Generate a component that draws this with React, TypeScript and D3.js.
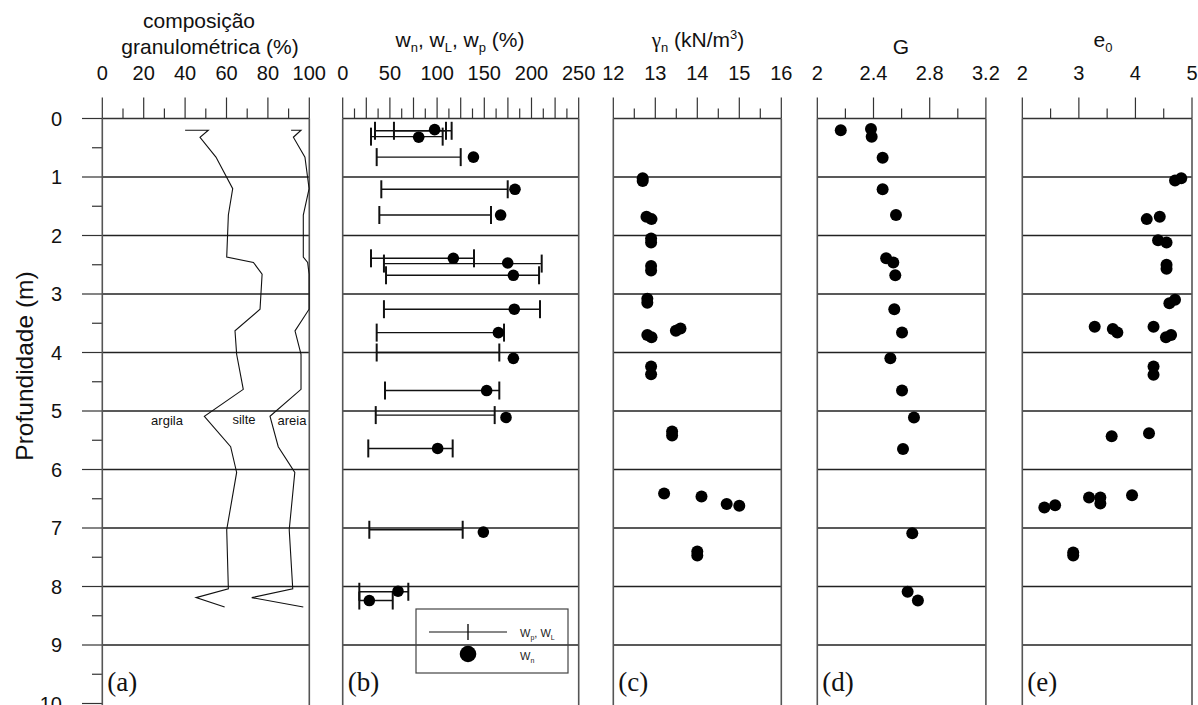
import * as d3 from "d3";

// ---- dados ----
// (a) composição granulométrica: limite argila/silte e silte/areia (% acumulada)
const granDepth = [0.2, 0.2, 0.32, 0.66, 1.2, 1.65, 2.37, 2.46, 2.66, 3.26, 3.63, 4.03, 4.63, 5.09, 5.61, 6.05, 7.03, 8.04, 8.19, 8.35];
const argilaPct = [40, 51.2, 47.2, 54.9, 63, 60.9, 60.1, 73, 77.2, 76.2, 64.1, 64.9, 68.1, 49.3, 62, 64.9, 60.1, 60.9, 45.3, 59.1];
const siltePct = [91.2, 96, 92.3, 97.9, 99.9, 97.1, 97.1, 99.2, 99.9, 99.9, 93.1, 96, 96, 81, 85, 93, 90.3, 92, 72.2, 97.1];

// (b) limites wp - wL e umidade natural wn
const limDepth = [0.21, 0.21, 0.31, 0.66, 1.21, 1.65, 2.39, 2.48, 2.68, 3.26, 3.66, 4.0, 4.65, 5.07, 5.64, 7.03, 8.09, 8.24];
const wpVals = [34.2, 54.3, 30, 36, 40.9, 38.8, 30, 43.7, 45.9, 43.7, 36, 36, 44.8, 35, 27.1, 28.2, 17.6, 17.6];
const wlVals = [115.4, 109.4, 105.9, 125, 174.8, 157.1, 139.1, 210.8, 208, 209, 170.9, 165.9, 165.9, 161, 116.5, 127.1, 69.5, 53];
const wnDepth = [0.19, 0.32, 0.66, 1.21, 1.65, 2.39, 2.47, 2.68, 3.26, 3.66, 4.1, 4.65, 5.11, 5.64, 7.07, 8.08, 8.24];
const wnVals = [97.4, 80.5, 138.5, 182.5, 167.3, 117.2, 174.8, 180.8, 181.8, 164.9, 180.8, 152.5, 173, 100.6, 149, 58.6, 28.2];

// (c) peso específico natural
const gammaDepth = [1.02, 1.07, 1.68, 1.72, 2.05, 2.12, 2.52, 2.6, 3.08, 3.15, 3.7, 3.74, 3.63, 3.59, 4.24, 4.37, 5.35, 5.42, 6.41, 6.46, 6.59, 6.62, 7.4, 7.47];
const gammaVals = [12.7, 12.7, 12.79, 12.91, 12.9, 12.9, 12.9, 12.9, 12.81, 12.81, 12.81, 12.91, 13.49, 13.6, 12.9, 12.9, 13.4, 13.4, 13.21, 14.1, 14.7, 15.0, 14.0, 14.0];

// (d) densidade dos grãos G
const gDepth = [0.2, 0.18, 0.31, 0.67, 1.21, 1.65, 2.39, 2.46, 2.68, 3.26, 3.66, 4.1, 4.65, 5.11, 5.65, 7.09, 8.09, 8.24];
const gVals = [2.167, 2.382, 2.387, 2.465, 2.465, 2.56, 2.49, 2.541, 2.555, 2.548, 2.603, 2.52, 2.603, 2.688, 2.61, 2.676, 2.643, 2.716];

// (e) índice de vazios e0
const eDepth = [1.06, 1.02, 1.72, 1.68, 2.08, 2.12, 2.5, 2.57, 3.16, 3.1, 3.56, 3.6, 3.66, 3.56, 3.74, 3.7, 4.24, 4.38, 5.43, 5.38, 6.65, 6.61, 6.48, 6.48, 6.58, 6.44, 7.42, 7.47];
const eVals = [4.7, 4.81, 4.2, 4.43, 4.4, 4.55, 4.55, 4.55, 4.6, 4.7, 3.28, 3.6, 3.68, 4.32, 4.54, 4.63, 4.32, 4.32, 3.58, 4.24, 2.39, 2.58, 3.18, 3.38, 3.38, 3.94, 2.9, 2.9];

const depthLabels = d3.range(0, 11);
const labelsA = [0, 20, 40, 60, 80, 100];
const labelsB = [0, 50, 100, 150, 200, 250];
const labelsC = [12, 13, 14, 15, 16];
const labelsD = [2, 2.4, 2.8, 3.2];
const labelsE = [2, 3, 4, 5];

const sans = "'Liberation Sans', Arial, sans-serif";
const serif = "'Liberation Serif', 'Times New Roman', serif";

const W = 1198;
const H = 705;
const y = d3.scaleLinear().domain([0, 10]).range([118.5, 703.5]);

// painéis: escala, passo dos traços (longo a cada 2)
const panels = [
  { id: "a", x: d3.scaleLinear().domain([0, 100]).range([102.3, 309.3]), step: 10, labels: labelsA },
  { id: "b", x: d3.scaleLinear().domain([0, 250]).range([342.7, 578.7]), step: 12.5, labels: labelsB },
  { id: "c", x: d3.scaleLinear().domain([12, 16]).range([613.3, 781.3]), step: 0.5, labels: labelsC },
  { id: "d", x: d3.scaleLinear().domain([2, 3.2]).range([817.3, 985.9]), step: 0.2, labels: labelsD },
  { id: "e", x: d3.scaleLinear().domain([2, 5]).range([1022.3, 1192]), step: 0.5, labels: labelsE },
];

function Panel({ p }: { p: (typeof panels)[number] }) {
  const [d0, d1] = p.x.domain();
  const n = Math.round((d1 - d0) / p.step);
  const ticks = d3.range(0, n + 1).map((i) => ({ v: d0 + i * p.step, long: i % 2 === 0 }));
  const [x0, x1] = p.x.range();
  return (
    <g>
      {ticks.map((t, i) => (
        <line key={i} x1={p.x(t.v)} x2={p.x(t.v)} y1={y(0)} y2={y(0) - (t.long ? 21 : 10)} stroke="#333" strokeWidth={1.2} />
      ))}
      {p.labels.map((v) => (
        <text key={v} x={p.x(v)} y={80} textAnchor="middle" fontSize="20" fontFamily={sans} fill="#111">
          {v}
        </text>
      ))}
      <line x1={x0} x2={x1} y1={y(0)} y2={y(0)} stroke="#333" strokeWidth={1.5} />
      {d3.range(1, 10).map((d) => (
        <line key={d} x1={x0} x2={x1} y1={y(d)} y2={y(d)} stroke="#222" strokeWidth={1.3} />
      ))}
      <line x1={x0} x2={x0} y1={y(0)} y2={H} stroke="#555" strokeWidth={1.6} />
      <line x1={x1} x2={x1} y1={y(0)} y2={H} stroke="#555" strokeWidth={1.6} />
      <text x={x0 + 5} y={691} fontSize="27" fontFamily={serif} fill="#111">
        ({p.id})
      </text>
    </g>
  );
}

export default function App() {
  const [pa, pb, pc, pd, pe] = panels;

  const lineA = d3
    .line<number>()
    .x((v) => pa.x(v))
    .y((_, i) => y(granDepth[i]));

  return (
    <div style={{ position: "absolute", left: 0, top: 0 }}>
      <svg width={W} height={H} style={{ display: "block", background: "#fff" }}>
        {/* eixo de profundidade */}
        {depthLabels.map((d) => (
          <g key={d}>
            <line x1={82} x2={102} y1={y(d)} y2={y(d)} stroke="#333" strokeWidth={1.2} />
            {d < 10 && <line x1={92} x2={102} y1={y(d + 0.5)} y2={y(d + 0.5)} stroke="#333" strokeWidth={1.2} />}
            <text x={62} y={y(d) + 7} textAnchor="end" fontSize="20" fontFamily={sans} fill="#111">
              {d}
            </text>
          </g>
        ))}
        <text transform="translate(33,366) rotate(-90)" textAnchor="middle" fontSize="24.5" fontFamily={sans} fill="#111">
          Profundidade (m)
        </text>

        {panels.map((p) => (
          <Panel key={p.id} p={p} />
        ))}

        {/* títulos */}
        <g fontFamily={sans} fontSize="21" fill="#111" textAnchor="middle">
          <text x={199} y={28}>composição</text>
          <text x={210} y={54}>granulométrica (%)</text>
          <text x={460} y={47}>
            <tspan>w</tspan>
            <tspan fontSize="13" dy="5">n</tspan>
            <tspan dy="-5">, w</tspan>
            <tspan fontSize="13" dy="5">L</tspan>
            <tspan dy="-5">, w</tspan>
            <tspan fontSize="13" dy="5">p</tspan>
            <tspan dy="-5"> (%)</tspan>
          </text>
          <text x={698} y={47}>
            <tspan fontFamily={serif}>γ</tspan>
            <tspan fontSize="13" dy="5">n</tspan>
            <tspan dy="-5"> (kN/m</tspan>
            <tspan fontSize="13" dy="-8">3</tspan>
            <tspan dy="8">)</tspan>
          </text>
          <text x={901} y={54}>G</text>
          <text x={1103} y={47}>
            <tspan>e</tspan>
            <tspan fontSize="13" dy="5">0</tspan>
          </text>
        </g>

        {/* (a) */}
        <path d={lineA(argilaPct) ?? ""} fill="none" stroke="#111" strokeWidth={1.1} />
        <path d={lineA(siltePct) ?? ""} fill="none" stroke="#111" strokeWidth={1.1} />
        <g fontFamily={sans} fontSize="13" fill="#111" textAnchor="middle">
          <text x={167} y={425}>argila</text>
          <text x={244} y={424}>silte</text>
          <text x={292} y={425}>areia</text>
        </g>

        {/* (b) */}
        {limDepth.map((d, i) => (
          <g key={i} stroke="#111">
            <line x1={pb.x(wpVals[i])} x2={pb.x(wlVals[i])} y1={y(d)} y2={y(d)} strokeWidth={1.4} />
            <line x1={pb.x(wpVals[i])} x2={pb.x(wpVals[i])} y1={y(d) - 9} y2={y(d) + 9} strokeWidth={2} />
            <line x1={pb.x(wlVals[i])} x2={pb.x(wlVals[i])} y1={y(d) - 9} y2={y(d) + 9} strokeWidth={2} />
          </g>
        ))}
        {wnDepth.map((d, i) => (
          <circle key={i} cx={pb.x(wnVals[i])} cy={y(d)} r={5.8} fill="#000" />
        ))}
        <g>
          <rect x={416} y={609} width={152} height={64} fill="none" stroke="#444" strokeWidth={1.2} />
          <line x1={429} x2={507} y1={632} y2={632} stroke="#111" strokeWidth={1.2} />
          <line x1={468} x2={468} y1={624} y2={640} stroke="#111" strokeWidth={1.4} />
          <circle cx={468} cy={654} r={8.3} fill="#000" />
          <g fontFamily={sans} fontSize="11" fill="#222">
            <text x={520} y={637}>
              <tspan>W</tspan>
              <tspan fontSize="7" dy="3">p</tspan>
              <tspan dy="-3">, W</tspan>
              <tspan fontSize="7" dy="3">L</tspan>
            </text>
            <text x={520} y={660}>
              <tspan>W</tspan>
              <tspan fontSize="7" dy="3">n</tspan>
            </text>
          </g>
        </g>

        {/* (c) */}
        {gammaDepth.map((d, i) => (
          <circle key={i} cx={pc.x(gammaVals[i])} cy={y(d)} r={6} fill="#000" />
        ))}
        {/* (d) */}
        {gDepth.map((d, i) => (
          <circle key={i} cx={pd.x(gVals[i])} cy={y(d)} r={6} fill="#000" />
        ))}
        {/* (e) */}
        {eDepth.map((d, i) => (
          <circle key={i} cx={pe.x(eVals[i])} cy={y(d)} r={6} fill="#000" />
        ))}
      </svg>
    </div>
  );
}
